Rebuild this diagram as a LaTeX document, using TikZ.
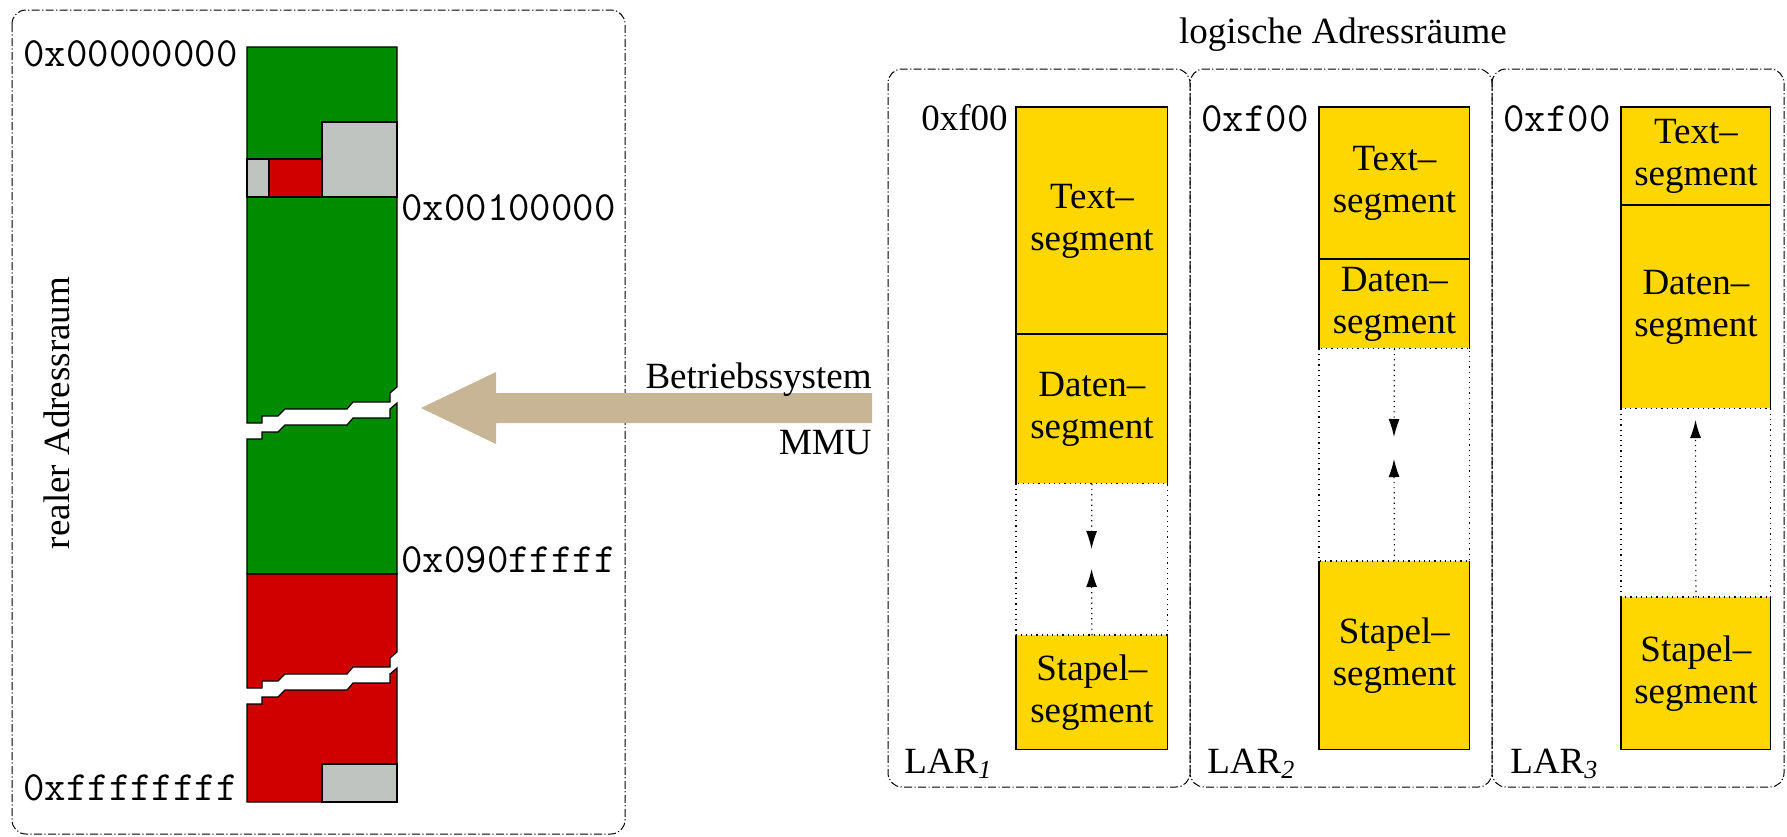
\documentclass[tikz,border=0pt]{standalone}
\usepackage{fontspec}
\setmainfont{Liberation Serif}
\usetikzlibrary{arrows.meta}
\definecolor{barGreen}{RGB}{0,140,0}
\definecolor{barRed}{RGB}{208,0,0}
\definecolor{barGrey}{RGB}{192,196,192}
\definecolor{segYellow}{RGB}{255,215,0}
\definecolor{mmuTan}{RGB}{199,181,149}
\begin{document}
\begin{tikzpicture}[x=0.5pt,y=-0.5pt,
  frame/.style={draw=black, line width=0.5pt, dash pattern=on 4pt off 1.2pt on 0.6pt off 1.2pt, rounded corners=7pt},
  piece/.style={draw=black, line width=0.6pt},
  serif/.style={inner sep=0pt, font=\fontsize{18.5}{21}\selectfont},
  mono/.style={inner sep=0pt, font=\fontsize{20.8}{23}\ttfamily},
  segbox/.style={fill=segYellow, draw=none, inner sep=0pt, anchor=north west, align=center, font=\fontsize{18.5}{21}\selectfont},
  solidedge/.style={draw=black, line width=0.6pt},
  dotedge/.style={draw=black, line width=0.6pt, dotted},
  growarrow/.style={draw=black, line width=0.6pt, dotted, -{Latex[length=9pt,width=5.5pt]}}
]
\useasboundingbox (0,0) rectangle (1787,836);

% ---------------- left: real address space ----------------
\draw[frame] (12,10) rectangle (625,834);

% green, upper part (break upper edge, d = 423)
\fill[barGreen, piece] (247,47) -- (397,47) -- (397,387) -- (390,393) -- (390,402) -- (353,402) -- (347,409) -- (285,409) -- (278,416) -- (262,416) -- (262,423) -- (247,423) -- cycle;
% green, lower part (break lower edge, d = 439)
\fill[barGreen, piece] (247,439) -- (262,439) -- (262,432) -- (278,432) -- (285,425) -- (347,425) -- (353,418) -- (390,418) -- (390,409) -- (397,403) -- (397,574) -- (247,574) -- cycle;
% red, upper part (d = 688)
\fill[barRed, piece] (247,574) -- (397,574) -- (397,652) -- (390,658) -- (390,667) -- (353,667) -- (347,674) -- (285,674) -- (278,681) -- (262,681) -- (262,688) -- (247,688) -- cycle;
% red, lower part (d = 704)
\fill[barRed, piece] (247,704) -- (262,704) -- (262,697) -- (278,697) -- (285,690) -- (347,690) -- (353,683) -- (390,683) -- (390,674) -- (397,668) -- (397,802) -- (247,802) -- cycle;
\filldraw[fill=barGrey, piece] (322,122) rectangle (397,197);
\filldraw[fill=barGrey, piece] (247,159) rectangle (269,197);
\filldraw[fill=barRed, piece] (269,159) rectangle (322,197);
\filldraw[fill=barGrey, piece] (322,764) rectangle (397,802);

\node[mono, anchor=base east] (a0) at (238,66) {0x00000000};
\node[mono, anchor=base west] (a1) at (401,220) {0x00100000};
\node[mono, anchor=base west] (a2) at (401,572) {0x090fffff};
\node[mono, anchor=base east] (a3) at (238,800) {0xffffffff};
\node[serif, rotate=90] (real) at (57,413) {realer Adressraum};

% ---------------- MMU arrow ----------------
\fill[mmuTan] (872,393) -- (496,393) -- (496,372) -- (421,408) -- (496,444) -- (496,423) -- (872,423) -- cycle;
\node[serif, anchor=base east] (bs) at (872,388) {Betriebssystem};
\node[serif, anchor=base east] (mmu) at (872,454) {MMU};

% ---------------- right: logical address spaces ----------------
\node[serif, anchor=base] (log) at (1343,43) {logische Adressräume};
\draw[frame] (888,69) rectangle (1190,787);
\draw[frame] (1190,69) rectangle (1492,787);
\draw[frame] (1492,69) rectangle (1784,787);

% LAR 1
\node[segbox, minimum width=75.5pt, minimum height=113.5pt] (t1) at (1016,107) {Text--\\segment};
\node[segbox, minimum width=75.5pt, minimum height=74.5pt] (d1) at (1016,334) {Daten--\\segment};
\node[segbox, minimum width=75.5pt, minimum height=57pt] (s1) at (1016,635) {Stapel--\\segment};
\draw[solidedge] (t1.south west) rectangle (t1.north east);
\draw[solidedge] (d1.south west) -- (d1.north west) -- (d1.north east) -- (d1.south east);
\draw[solidedge] (s1.north west) -- (s1.south west) -- (s1.south east) -- (s1.north east);
\draw[dotedge] (d1.south west) -- (s1.north west) -- (s1.north east) -- (d1.south east) -- (d1.south west);
\coordinate (m1) at (1091.5,549);
\coordinate (n1) at (1091.5,569);
\draw[growarrow] (d1.south) -- (m1);
\draw[growarrow] (s1.north) -- (n1);
\node[serif, anchor=base east] (h1) at (1008,130) {0xf00};
\node[serif, anchor=base west] (l1) at (904,773) {LAR\raisebox{-0.3ex}{\fontsize{13}{13}\selectfont\itshape 1}};

% LAR 2
\node[segbox, minimum width=75pt, minimum height=76pt] (t2) at (1319,107) {Text--\\segment};
\node[segbox, minimum width=75pt, minimum height=44.5pt] (d2) at (1319,259) {Daten--\\segment};
\node[segbox, minimum width=75pt, minimum height=94pt] (s2) at (1319,561) {Stapel--\\segment};
\draw[solidedge] (t2.south west) rectangle (t2.north east);
\draw[solidedge] (d2.south west) -- (d2.north west) -- (d2.north east) -- (d2.south east);
\draw[solidedge] (s2.north west) -- (s2.south west) -- (s2.south east) -- (s2.north east);
\draw[dotedge] (d2.south west) -- (s2.north west) -- (s2.north east) -- (d2.south east) -- (d2.south west);
\coordinate (m2) at (1394,437);
\coordinate (n2) at (1394,459);
\draw[growarrow] (d2.south) -- (m2);
\draw[growarrow] (s2.north) -- (n2);
\node[mono, anchor=base east] (h2) at (1309,131) {0xf00};
\node[serif, anchor=base west] (l2) at (1207,773) {LAR\raisebox{-0.3ex}{\fontsize{13}{13}\selectfont\itshape 2}};

% LAR 3
\node[segbox, minimum width=74.5pt, minimum height=49pt] (t3) at (1621,107) {Text--\\segment};
\node[segbox, minimum width=74.5pt, minimum height=101.5pt] (d3) at (1621,205) {Daten--\\segment};
\node[segbox, minimum width=74.5pt, minimum height=76pt] (s3) at (1621,597) {Stapel--\\segment};
\draw[solidedge] (t3.south west) rectangle (t3.north east);
\draw[solidedge] (d3.south west) -- (d3.north west) -- (d3.north east) -- (d3.south east);
\draw[solidedge] (s3.north west) -- (s3.south west) -- (s3.south east) -- (s3.north east);
\draw[dotedge] (d3.south west) -- (s3.north west) -- (s3.north east) -- (d3.south east) -- (d3.south west);
\coordinate (n3) at (1695.5,420);
\draw[growarrow] (s3.north) -- (n3);
\node[mono, anchor=base east] (h3) at (1611,131) {0xf00};
\node[serif, anchor=base west] (l3) at (1510,773) {LAR\raisebox{-0.3ex}{\fontsize{13}{13}\selectfont\itshape 3}};
\end{tikzpicture}
\end{document}
